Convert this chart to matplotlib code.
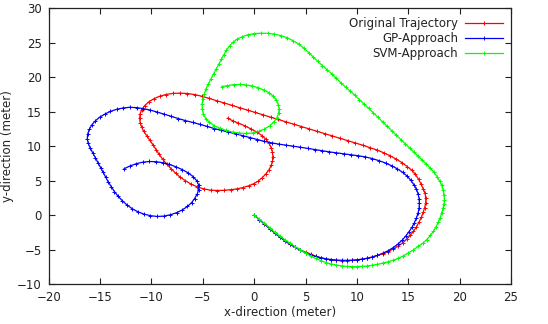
import matplotlib
matplotlib.use("Agg")
import matplotlib.pyplot as plt

# Original Trajectory
orig_x = [0.0, 0.5, 1.0, 1.5, 2.0, 2.5, 3.0, 3.5, 4.0, 4.5, 5.0, 5.5, 6.0, 6.5, 7.0, 7.5, 8.0, 8.5, 9.0, 9.5,
          10.0, 10.5, 11.0, 11.5, 12.0, 12.5, 13.0, 13.5, 14.0, 14.45, 14.85, 15.2, 15.5, 15.8, 16.05, 16.28, 16.45,
          16.6, 16.7, 16.7, 16.63, 16.45, 16.25, 16.0, 15.7, 15.35, 14.9, 14.4, 13.85, 13.25, 12.6, 11.95, 11.25,
          10.55, 9.85, 9.1, 8.35, 7.6, 6.85, 6.1, 5.35, 4.6, 3.85, 3.1, 2.35, 1.6, 0.85, 0.1, -0.65, -1.4, -2.15,
          -2.9, -3.65, -4.4, -5.1, -5.8, -6.5, -7.2, -7.9, -8.6, -9.2, -9.75, -10.25, -10.65, -10.95, -11.1, -11.15,
          -11.1, -10.95, -10.75, -10.45, -10.15, -9.85, -9.55, -9.25, -8.9, -8.5, -8.1, -7.65, -7.2, -6.7, -6.15,
          -5.55, -4.9, -4.25, -3.6, -2.95, -2.3, -1.7, -1.1, -0.55, -0.05, 0.4, 0.8, 1.15, 1.45, 1.65, 1.78, 1.82,
          1.78, 1.65, 1.45, 1.15, 0.75, 0.25, -0.3, -0.9, -1.55, -2.1, -2.58]
orig_y = [0.0, -0.65, -1.3, -1.95, -2.6, -3.15, -3.7, -4.2, -4.65, -5.05, -5.4, -5.7, -5.98, -6.2, -6.38, -6.5,
          -6.58, -6.62, -6.62, -6.58, -6.5, -6.4, -6.25, -6.07, -5.85, -5.6, -5.3, -4.95, -4.52, -4.05, -3.5, -2.95,
          -2.35, -1.7, -1.0, -0.3, 0.4, 1.1, 1.8, 2.5, 3.19, 3.8, 4.5, 5.2, 5.9, 6.5, 7.05, 7.6, 8.1, 8.6, 9.05,
          9.45, 9.8, 10.15, 10.47, 10.81, 11.15, 11.49, 11.83, 12.17, 12.51, 12.86, 13.2, 13.54, 13.88, 14.22,
          14.56, 14.9, 15.24, 15.58, 15.93, 16.27, 16.6, 16.95, 17.25, 17.5, 17.65, 17.7, 17.67, 17.5, 17.25, 16.9,
          16.45, 15.9, 15.3, 14.7, 14.05, 13.4, 12.75, 12.15, 11.5, 10.85, 10.2, 9.5, 8.8, 8.1, 7.4, 6.75, 6.1,
          5.5, 5.0, 4.5, 4.1, 3.8, 3.62, 3.57, 3.6, 3.68, 3.8, 4.0, 4.25, 4.55, 4.95, 5.45, 6.0, 6.6, 7.2, 7.85,
          8.5, 9.15, 9.8, 10.4, 11.0, 11.55, 12.05, 12.5, 12.95, 13.35, 13.7, 14.06]

# GP-Approach
gp_x = [0.0, 0.5, 1.0, 1.5, 2.0, 2.5, 3.0, 3.5, 4.0, 4.5, 5.0, 5.5, 6.0, 6.5, 7.0, 7.5, 8.0, 8.5, 9.0, 9.5,
        10.0, 10.5, 11.0, 11.5, 12.0, 12.5, 13.0, 13.5, 14.0, 14.4, 14.75, 15.05, 15.35, 15.6, 15.8, 15.95, 16.05,
        16.08, 16.05, 15.95, 15.8, 15.55, 15.25, 14.9, 14.45, 13.95, 13.4, 12.8, 12.15, 11.5, 10.8, 10.1, 9.4,
        8.7, 8.0, 7.3, 6.6, 5.9, 5.2, 4.5, 3.8, 3.1, 2.4, 1.7, 1.0, 0.3, -0.4, -1.1, -1.8, -2.5, -3.2, -3.9,
        -4.6, -5.3, -6.0, -6.7, -7.4, -8.1, -8.8, -9.5, -10.15, -10.8, -11.45, -12.1, -12.75, -13.4, -14.0,
        -14.55, -15.05, -15.45, -15.8, -16.05, -16.2, -16.25, -16.15, -15.95, -15.7, -15.45, -15.2, -14.95,
        -14.7, -14.45, -14.2, -13.9, -13.6, -13.25, -12.85, -12.4, -11.9, -11.35, -10.75, -10.1, -9.45, -8.8,
        -8.15, -7.55, -7.0, -6.5, -6.1, -5.8, -5.55, -5.4, -5.4, -5.6, -5.95, -6.45, -7.0, -7.6, -8.25, -8.9,
        -9.55, -10.2, -10.85, -11.5, -12.1, -12.67]
gp_y = [0.0, -0.65, -1.3, -1.95, -2.6, -3.2, -3.75, -4.25, -4.7, -5.1, -5.45, -5.75, -6.0, -6.2, -6.35, -6.45,
        -6.52, -6.56, -6.57, -6.55, -6.5, -6.4, -6.28, -6.1, -5.85, -5.55, -5.2, -4.75, -4.2, -3.65, -3.05,
        -2.45, -1.8, -1.1, -0.4, 0.3, 1.0, 1.7, 2.4, 3.1, 3.75, 4.4, 5.05, 5.65, 6.2, 6.7, 7.15, 7.55, 7.9,
        8.2, 8.45, 8.62, 8.76, 8.9, 9.03, 9.18, 9.35, 9.52, 9.69, 9.85, 10.0, 10.15, 10.3, 10.48, 10.7, 10.97,
        11.25, 11.52, 11.8, 12.05, 12.3, 12.57, 12.87, 13.18, 13.45, 13.72, 14.02, 14.35, 14.67, 14.98, 15.25,
        15.45, 15.6, 15.65, 15.55, 15.35, 15.05, 14.65, 14.2, 13.7, 13.1, 12.45, 11.8, 11.1, 10.4, 9.7, 9.0,
        8.3, 7.6, 6.9, 6.2, 5.5, 4.8, 4.1, 3.4, 2.75, 2.1, 1.5, 0.95, 0.5, 0.15, -0.08, -0.2, -0.15, 0.05,
        0.35, 0.75, 1.25, 1.8, 2.4, 3.05, 3.7, 4.35, 5.0, 5.6, 6.15, 6.6, 7.0, 7.35, 7.6, 7.75, 7.78, 7.68,
        7.45, 7.12, 6.72]

# SVM-Approach
svm_x = [0.0, 0.5, 1.0, 1.5, 2.0, 2.5, 3.0, 3.5, 4.0, 4.5, 5.0, 5.5, 6.0, 6.5, 7.0, 7.5, 8.0, 8.5, 9.0, 9.5,
         10.0, 10.5, 11.0, 11.5, 12.0, 12.5, 13.0, 13.5, 14.0, 14.5, 15.0, 15.5, 15.95, 16.4, 16.8, 17.15, 17.45,
         17.7, 17.92, 18.1, 18.25, 18.38, 18.48, 18.52, 18.48, 18.4, 18.25, 18.05, 17.8, 17.5, 17.15, 16.75,
         16.35, 15.95, 15.55, 15.15, 14.7, 14.3, 13.85, 13.4, 12.95, 12.5, 12.05, 11.6, 11.15, 10.7, 10.25, 9.8,
         9.35, 8.9, 8.45, 8.0, 7.55, 7.1, 6.65, 6.2, 5.75, 5.3, 4.85, 4.35, 3.8, 3.2, 2.6, 1.95, 1.3, 0.65, 0.0,
         -0.6, -1.15, -1.65, -2.05, -2.4, -2.7, -2.95, -3.2, -3.45, -3.7, -3.95, -4.2, -4.45, -4.7, -4.85, -5.0,
         -5.07, -5.05, -4.95, -4.7, -4.35, -3.9, -3.35, -2.75, -2.1, -1.45, -0.8, -0.15, 0.45, 1.0, 1.5, 1.9,
         2.2, 2.38, 2.42, 2.35, 2.15, 1.85, 1.45, 0.95, 0.4, -0.2, -0.8, -1.4, -2.0, -2.6, -3.16]
svm_y = [0.0, -0.6, -1.2, -1.85, -2.5, -3.05, -3.6, -4.1, -4.6, -5.05, -5.5, -5.95, -6.3, -6.6, -6.9, -7.1,
         -7.25, -7.37, -7.44, -7.47, -7.47, -7.44, -7.38, -7.28, -7.15, -6.98, -6.8, -6.57, -6.3, -5.95, -5.5,
         -5.05, -4.55, -4.1, -3.55, -2.95, -2.35, -1.7, -1.05, -0.4, 0.3, 1.0, 1.6, 2.2, 2.9, 3.6, 4.3, 4.95,
         5.6, 6.2, 6.8, 7.4, 8.0, 8.55, 9.15, 9.7, 10.35, 10.95, 11.6, 12.25, 12.9, 13.55, 14.2, 14.85, 15.5,
         16.1, 16.75, 17.4, 18.0, 18.6, 19.2, 19.85, 20.5, 21.1, 21.7, 22.3, 22.95, 23.6, 24.2, 24.8, 25.3,
         25.75, 26.05, 26.28, 26.38, 26.4, 26.35, 26.18, 25.9, 25.55, 25.1, 24.55, 23.95, 23.3, 22.6, 21.9,
         21.2, 20.5, 19.8, 19.05, 18.3, 17.6, 16.85, 16.1, 15.35, 14.65, 14.0, 13.45, 13.0, 12.6, 12.3, 12.05,
         11.9, 11.85, 11.92, 12.15, 12.5, 12.95, 13.5, 14.1, 14.75, 15.4, 16.05, 16.7, 17.25, 17.75, 18.15,
         18.5, 18.75, 18.9, 18.97, 18.93, 18.8, 18.65]

labels = ["Original Trajectory", "GP-Approach", "SVM-Approach"]
colors = ["#ff0000", "#0000ff", "#00ff00"]

plt.rcParams["font.family"] = "DejaVu Sans"
fig = plt.figure(figsize=(5.48, 3.24), dpi=100)
fig.patch.set_facecolor("white")

ax = fig.add_axes([0.0889, 0.1235, 0.8436, 0.8505])

series = [(orig_x, orig_y), (gp_x, gp_y), (svm_x, svm_y)]
for (xs, ys), lab, c in zip(series, labels, colors):
    ax.plot(xs, ys, color=c, lw=0.9, marker="+", ms=3.2, mew=0.7, label=lab)

ax.set_xlim(-20, 25)
ax.set_ylim(-10, 30)
ax.set_xticks(range(-20, 26, 5))
ax.set_yticks(range(-10, 31, 5))
ax.tick_params(direction="in", top=True, right=True, length=4, width=0.8,
               labelsize=8.5, pad=5, colors="#222222")
for s in ax.spines.values():
    s.set_linewidth(0.9)
    s.set_color("#222222")
ax.set_xlabel("x-direction (meter)", fontsize=8.5, labelpad=1.5, color="#222222")
ax.set_ylabel("y-direction (meter)", fontsize=8.5, labelpad=2, color="#222222")

leg = ax.legend(loc="upper right", frameon=False, markerfirst=False,
                fontsize=8.5, handlelength=3.2, handletextpad=0.6,
                labelspacing=0.2, borderaxespad=0.3)
for t in leg.get_texts():
    t.set_ha("right")
    t.set_color("#222222")
leg._legend_box.align = "right"

fig.savefig("out.png", dpi=100)
